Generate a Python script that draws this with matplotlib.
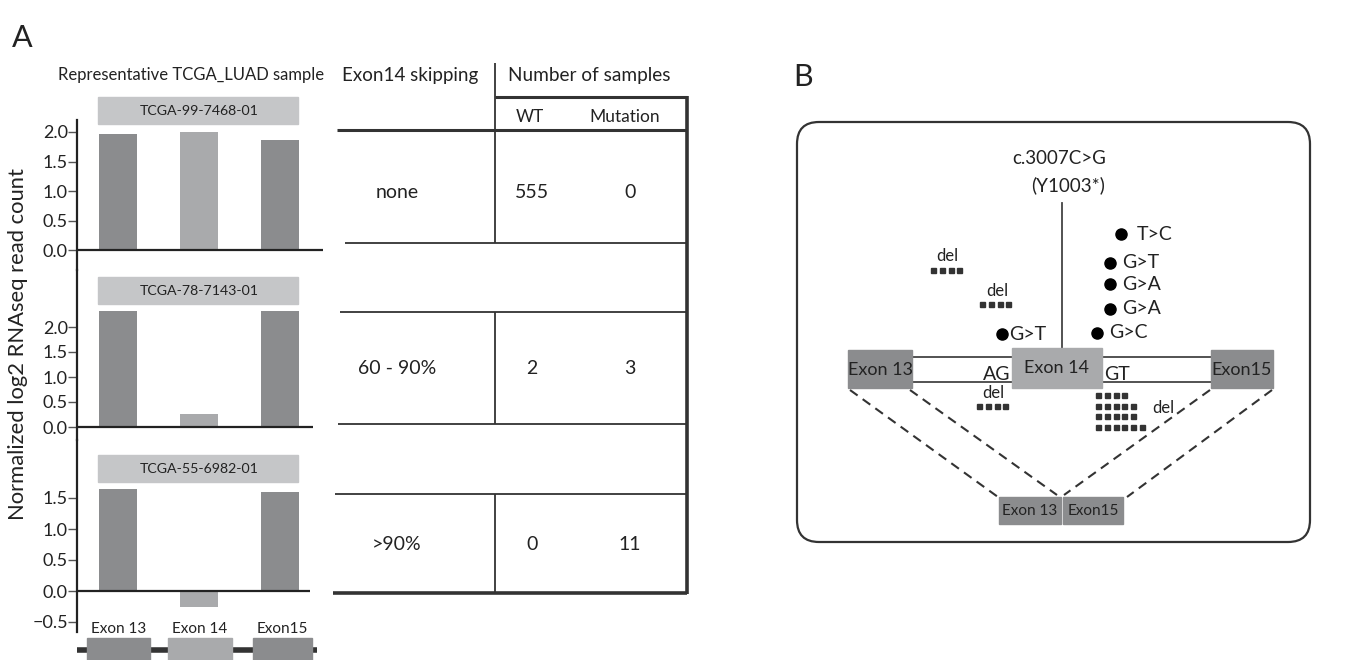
import matplotlib.pyplot as plt
from matplotlib.patches import Rectangle, FancyBboxPatch

plt.rcParams['font.family'] = ['Lato', 'DejaVu Sans']

# ---- data ----
exons = ["Exon 13", "Exon 14", "Exon15"]
samples = ["TCGA-99-7468-01", "TCGA-78-7143-01", "TCGA-55-6982-01"]
counts_99_7468 = [1.97, 2.00, 1.87]
counts_78_7143 = [2.32, 0.26, 2.32]
counts_55_6982 = [1.65, -0.26, 1.60]

skipping = ["none", "60 - 90%", ">90%"]
n_wt = [555, 2, 0]
n_mut = [0, 3, 11]

point_muts = ["G>T", "T>C", "G>T", "G>A", "G>A", "G>C"]
del_rows_left = [4, 4, 4]          # dots per deletion mark (upper, middle, below AG)
del_rows_right = [4, 5, 5, 6]      # dots per row below GT

W, H = 1355, 660
DARK = "#8b8c8e"
LIGHT = "#a9aaac"
LABEL = "#c5c6c8"
INK = "#222222"

fig = plt.figure(figsize=(W / 100, H / 100), dpi=100)
cv = fig.add_axes([0, 0, 1, 1])
cv.set_xlim(0, W)
cv.set_ylim(H, 0)
cv.axis("off")


def px_axes(x0, y0, x1, y1):
    return fig.add_axes([x0 / W, 1 - y1 / H, (x1 - x0) / W, (y1 - y0) / H])


# ---- panel A: bar charts ----
# (values, top px, bottom px, right px, zero px, px per unit, ticks, label box y)
panels = [
    (counts_99_7468, 120, 270, 323, 250, 59, [0, 0.5, 1.0, 1.5, 2.0], 97),
    (counts_78_7143, 270, 440, 313, 427, 50, [0, 0.5, 1.0, 1.5, 2.0], 277),
    (counts_55_6982, 440, 632, 310, 591, 62, [-0.5, 0, 0.5, 1.0, 1.5], 455),
]
for (vals, top, bot, right, zero, ppu, ticks, ly), name in zip(panels, samples):
    ax = px_axes(77, top, right, bot)
    ax.patch.set_alpha(0)
    ax.bar(range(3), vals, width=0.46, color=[DARK, LIGHT, DARK], zorder=2)
    ax.set_xlim((77 - 118) / 81, (right - 118) / 81)
    ax.set_ylim((zero - bot) / ppu, (zero - top) / ppu)
    ax.axhline(0, color=INK, lw=1.6, zorder=3)
    for s in ["top", "right", "bottom"]:
        ax.spines[s].set_visible(False)
    ax.spines["left"].set_color(INK)
    ax.spines["left"].set_linewidth(1.6)
    ax.set_xticks([])
    ax.set_yticks(ticks)
    ax.set_yticklabels([f"{t:.1f}".replace("-", "\u2212") for t in ticks])
    ax.tick_params(axis="y", length=6.5, width=1, color="#555555",
                   labelsize=13, labelcolor=INK, pad=0)
    cv.add_patch(Rectangle((98, ly), 200, 27, color=LABEL, zorder=1))
    cv.text(199, ly + 14, name, ha="center", va="center", fontsize=10.2, color=INK)

cv.text(191, 75, "Representative TCGA_LUAD sample", ha="center", va="center",
        fontsize=12, color=INK)
cv.text(18, 344, "Normalized log2 RNAseq read count", rotation=90,
        ha="center", va="center", fontsize=15.8, color=INK)
cv.text(22, 38, "A", ha="center", va="center", fontsize=22, color=INK)

# gene model under the bars
cv.plot([77, 317], [650, 650], color="#333333", lw=4, solid_capstyle="butt", zorder=1)
for (x0, x1), c, lab in zip([(87, 150), (168, 232), (253, 312)],
                            [DARK, LIGHT, DARK], exons):
    cv.add_patch(Rectangle((x0, 638), x1 - x0, 25, color=c, zorder=2))
    cv.text((x0 + x1) / 2, 629, lab, ha="center", va="center", fontsize=11, color=INK)

# ---- table ----
lk = dict(color="#333333", solid_capstyle="butt")
cv.plot([495, 495], [63, 243], lw=1.3, **lk)
cv.plot([495, 687], [97, 97], lw=2.2, **lk)
cv.plot([687, 687], [96, 594], lw=2.6, **lk)
cv.plot([337, 687], [130, 130], lw=2.2, **lk)
cv.plot([345, 687], [243, 243], lw=1.3, **lk)
cv.plot([340, 687], [312, 312], lw=1.3, **lk)
cv.plot([495, 495], [312, 424], lw=1.3, **lk)
cv.plot([338, 687], [424, 424], lw=1.3, **lk)
cv.plot([335, 687], [494, 494], lw=1.3, **lk)
cv.plot([495, 495], [494, 593], lw=1.3, **lk)
cv.plot([333, 687], [593, 593], lw=2.6, **lk)

cv.text(410, 75, "Exon14 skipping", ha="center", va="center", fontsize=13.5, color=INK)
cv.text(589, 75, "Number of samples", ha="center", va="center", fontsize=13.7, color=INK)
cv.text(530, 117, "WT", ha="center", va="center", fontsize=12.5, color=INK)
cv.text(625, 117, "Mutation", ha="center", va="center", fontsize=12.5, color=INK)
for y, sk, wt, mu in zip([192, 368, 545], skipping, n_wt, n_mut):
    cv.text(397, y, sk, ha="center", va="center", fontsize=14, color=INK)
    cv.text(532, y, str(wt), ha="center", va="center", fontsize=14, color=INK)
    cv.text(630, y, str(mu), ha="center", va="center", fontsize=14, color=INK)

# ---- panel B ----
cv.text(803, 77, "B", ha="center", va="center", fontsize=22, color=INK)
cv.add_patch(FancyBboxPatch((797, 122), 513, 420,
                            boxstyle="round,pad=0,rounding_size=22",
                            fc="none", ec="#333333", lw=1.6))

cv.text(1059, 158, "c.3007C>G", ha="center", va="center", fontsize=13.5, color=INK)
cv.text(1068, 185, "(Y1003*)", ha="center", va="center", fontsize=13.5, color=INK)
cv.plot([1062, 1062], [203, 348], color="#444444", lw=1.3)

# intron lines
for y in (357, 382):
    cv.plot([912, 1012], [y, y], color="#444444", lw=1.3)
    cv.plot([1102, 1211], [y, y], color="#444444", lw=1.3)
cv.add_patch(Rectangle((848, 350), 64, 38, color=DARK, zorder=2))
cv.add_patch(Rectangle((1012, 348), 90, 40, color=LIGHT, zorder=2))
cv.add_patch(Rectangle((1211, 350), 62, 38, color=DARK, zorder=2))
cv.text(880, 370, "Exon 13", ha="center", va="center", fontsize=13, color=INK, zorder=3)
cv.text(1056, 368, "Exon 14", ha="center", va="center", fontsize=13, color=INK, zorder=3)
cv.text(1242, 370, "Exon15", ha="center", va="center", fontsize=13, color=INK, zorder=3)
cv.text(1010, 375, "AG", ha="right", va="center", fontsize=14, color=INK)
cv.text(1104, 375, "GT", ha="left", va="center", fontsize=14, color=INK)

# splice dashes
dk = dict(color="#333333", lw=1.5, ls=(0, (4.5, 3)))
cv.plot([850, 998], [390, 497], **dk)
cv.plot([910, 1057], [390, 495], **dk)
cv.plot([1210, 1064], [390, 495], **dk)
cv.plot([1272, 1127], [390, 497], **dk)
cv.add_patch(Rectangle((999, 497), 62, 27, color=DARK, zorder=2))
cv.add_patch(Rectangle((1063, 497), 60, 27, color=DARK, zorder=2))
cv.text(1030, 511, "Exon 13", ha="center", va="center", fontsize=11, color=INK, zorder=3)
cv.text(1093, 511, "Exon15", ha="center", va="center", fontsize=11, color=INK, zorder=3)

# point mutations: dot position and gap to its label
dot_xy = [(1002, 334, 7), (1121, 234, 16), (1110, 263, 12), (1110, 284, 12),
          (1110, 309, 12), (1097, 333, 12)]
for (x, y, gap), m in zip(dot_xy, point_muts):
    cv.plot(x, y, "o", color="black", ms=8)
    cv.text(x + gap, y, m, ha="left", va="center", fontsize=14, color=INK)


# deletions
def dots(x0, y, n, step=8.8):
    cv.plot([x0 + i * step for i in range(n)], [y] * n, "s", color="#333333", ms=3.6)


for (x0, y, lx, ly), n in zip([(933, 270, 947, 256), (982, 304, 997, 291),
                               (979, 406, 993, 393)], del_rows_left):
    dots(x0, y, n)
    cv.text(lx, ly, "del", ha="center", va="center", fontsize=12, color=INK)
for y, n in zip([395, 406, 416, 427], del_rows_right):
    dots(1098, y, n)
cv.text(1152, 408, "del", ha="left", va="center", fontsize=12, color=INK)

fig.savefig("out.png", dpi=100)
